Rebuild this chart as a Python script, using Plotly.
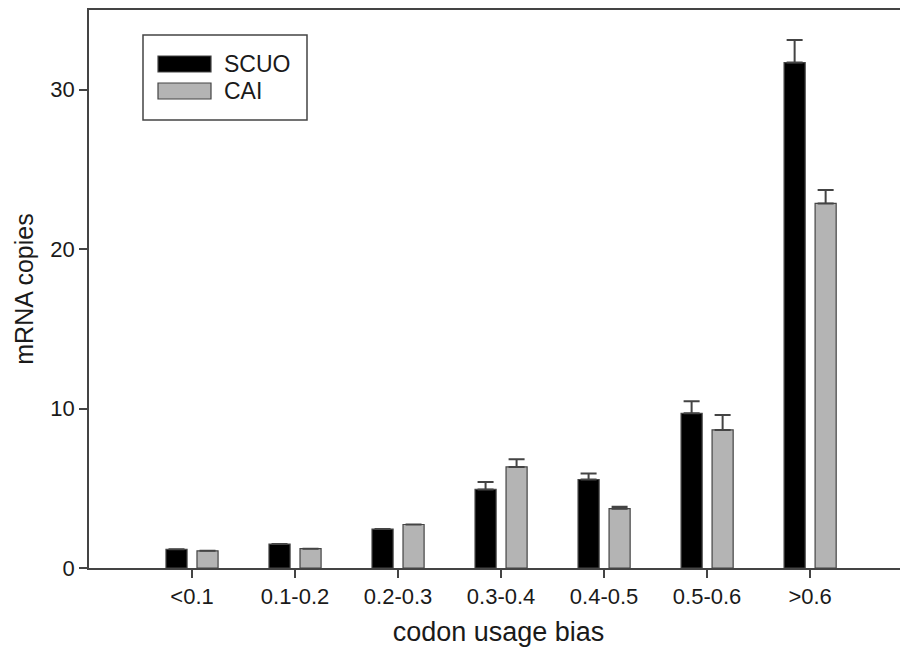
import plotly.graph_objects as go

categories = ["<0.1", "0.1-0.2", "0.2-0.3", "0.3-0.4", "0.4-0.5", "0.5-0.6", ">0.6"]
scuo_values = [1.17, 1.50, 2.44, 4.93, 5.55, 9.70, 31.70]
scuo_errors = [None, None, None, 0.46, 0.38, 0.76, 1.42]
cai_values = [1.08, 1.21, 2.73, 6.34, 3.72, 8.66, 22.87]
cai_errors = [None, None, None, 0.48, 0.12, 0.94, 0.84]
series_names = ["SCUO", "CAI"]
y_ticks = [0, 10, 20, 30]
x_title = "codon usage bias"
y_title = "mRNA copies"

FONT = "Liberation Sans, Arial, Helvetica, sans-serif"
EDGE = "#444444"
BLACK = "#000000"
GRAY = "#b4b4b4"
TXT = "#1a1a1a"

# The page has an 8px body margin; work in page pixels and shift.
OFF = 8
FIG_W, FIG_H = 908 - OFF, 647 - OFF
pl, pr, pt, pb = 89 - OFF, 908 - OFF, 10 - OFF, 568 - OFF

fig = go.Figure()
fig.add_trace(go.Bar(
    x=categories, y=scuo_values, name=series_names[0],
    marker=dict(color=BLACK, line=dict(color=EDGE, width=1.2)),
    error_y=dict(type="data", array=scuo_errors, arrayminus=[0]*7, symmetric=False,
                 color=EDGE, thickness=2, width=8),
))
fig.add_trace(go.Bar(
    x=categories, y=cai_values, name=series_names[1],
    marker=dict(color=GRAY, line=dict(color=EDGE, width=1.2)),
    error_y=dict(type="data", array=cai_errors, arrayminus=[0]*7, symmetric=False,
                 color=EDGE, thickness=2, width=8),
))

W, H = pr - pl, pb - pt
def px(x):
    return (x - OFF - pl) / W
def py(y):
    return (pb - (y - OFF)) / H

shapes = [
    dict(type="rect", xref="paper", yref="paper", x0=px(143), x1=px(307), y0=py(120), y1=py(35),
         line=dict(color=EDGE, width=1.5), fillcolor="white"),
    dict(type="rect", xref="paper", yref="paper", x0=px(158), x1=px(211), y0=py(72), y1=py(56),
         line=dict(color=EDGE, width=1.2), fillcolor=BLACK),
    dict(type="rect", xref="paper", yref="paper", x0=px(158), x1=px(211), y0=py(99), y1=py(83),
         line=dict(color=EDGE, width=1.2), fillcolor=GRAY),
]
annotations = [
    dict(xref="paper", yref="paper", x=px(222), y=py(64), text=series_names[0], showarrow=False,
         xanchor="left", yanchor="middle", font=dict(family=FONT, size=23, color=TXT)),
    dict(xref="paper", yref="paper", x=px(222), y=py(91), text=series_names[1], showarrow=False,
         xanchor="left", yanchor="middle", font=dict(family=FONT, size=23, color=TXT)),
]

fig.update_layout(
    width=FIG_W, height=FIG_H,
    margin=dict(l=pl, r=FIG_W - pr, t=pt, b=FIG_H - pb),
    paper_bgcolor="white", plot_bgcolor="white",
    barmode="group", bargap=0.398, bargroupgap=0.32,
    showlegend=False,
    font=dict(family=FONT, size=22, color=TXT),
    shapes=shapes, annotations=annotations,
    xaxis=dict(
        range=[-1, 6.95], showgrid=False, zeroline=False,
        showline=True, linecolor=EDGE, linewidth=1.5, mirror=True,
        ticks="outside", ticklen=8, tickcolor=EDGE, tickwidth=1.5,
        tickfont=dict(family=FONT, size=22, color=TXT),
        title=dict(text=x_title, font=dict(family=FONT, size=27, color=TXT), standoff=14),
    ),
    yaxis=dict(
        range=[0, 35], showgrid=False, zeroline=False,
        showline=True, linecolor=EDGE, linewidth=1.5,
        ticks="outside", ticklen=8, tickcolor=EDGE, tickwidth=1.5,
        tickvals=y_ticks, ticktext=[str(v) for v in y_ticks],
        tickfont=dict(family=FONT, size=22, color=TXT),
        title=dict(text=y_title, font=dict(family=FONT, size=25, color=TXT), standoff=10),
    ),
)

fig.write_html("out.html")
